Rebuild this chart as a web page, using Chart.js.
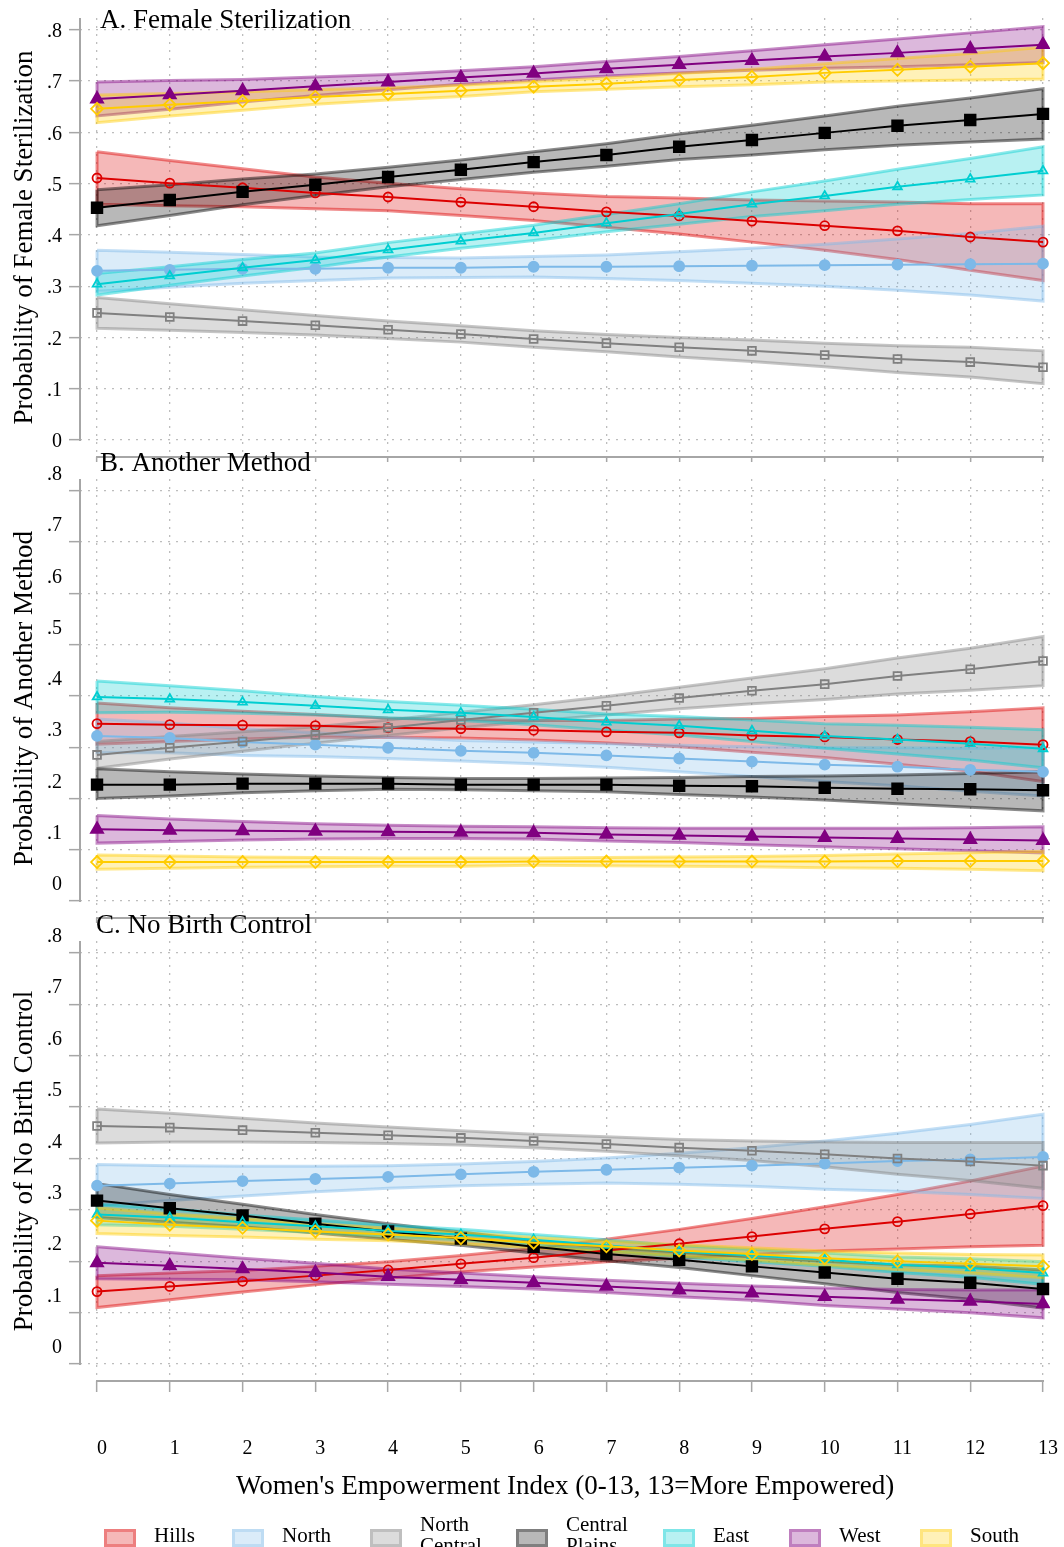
<!DOCTYPE html>
<html>
<head>
<meta charset="utf-8">
<title>Predicted probabilities by region</title>
<script src="https://cdn.jsdelivr.net/npm/chart.js@4.4.1/dist/chart.umd.min.js"></script>
<style>
  body { margin: 0; background: #fff; }
  #page { position: relative; width: 1064px; height: 1547px; overflow: hidden; font-family: "Liberation Serif", "Times New Roman", serif; }
  canvas { position: absolute; left: 0; }
  .lg-box { position: absolute; top: 1529px; width: 32px; height: 18px; box-sizing: border-box; border: 3px solid; background-clip: padding-box; }
  .lg-text { position: absolute; font-size: 21px; line-height: 21px; color: #000; white-space: nowrap; }
</style>
</head>
<body>
<div id="page">
  <canvas id="panelA" width="1064" height="470" style="top:0px"></canvas>
  <canvas id="panelB" width="1064" height="491" style="top:440px"></canvas>
  <canvas id="panelC" width="1064" height="621" style="top:900px"></canvas>
  <div id="legend"></div>
</div>
<script>
const empIndex = [0, 1, 2, 3, 4, 5, 6, 7, 8, 9, 10, 11, 12, 13];
const regions = ['Hills', 'North', 'North Central', 'Central Plains', 'East', 'West', 'South'];

// A. Female sterilization
const sterHills = [0.511,0.501,0.492,0.482,0.474,0.464,0.455,0.445,0.437,0.427,0.418,0.408,0.396,0.386];
const sterHillsLo = [0.460,0.457,0.455,0.451,0.447,0.438,0.428,0.415,0.402,0.386,0.370,0.352,0.331,0.311];
const sterHillsHi = [0.562,0.545,0.529,0.513,0.501,0.490,0.482,0.475,0.472,0.468,0.466,0.464,0.461,0.461];
const sterNorth = [0.330,0.332,0.334,0.334,0.336,0.336,0.338,0.338,0.339,0.340,0.341,0.342,0.343,0.344];
const sterNorthLo = [0.290,0.298,0.306,0.311,0.316,0.317,0.318,0.315,0.311,0.306,0.300,0.292,0.283,0.271];
const sterNorthHi = [0.370,0.366,0.362,0.357,0.356,0.355,0.358,0.361,0.367,0.374,0.382,0.392,0.403,0.417];
const sterNorthCentral = [0.248,0.240,0.232,0.224,0.215,0.207,0.197,0.189,0.181,0.174,0.166,0.158,0.152,0.142];
const sterNorthCentralLo = [0.218,0.214,0.210,0.205,0.198,0.191,0.181,0.172,0.162,0.153,0.143,0.132,0.123,0.110];
const sterNorthCentralHi = [0.278,0.266,0.254,0.243,0.232,0.223,0.213,0.206,0.200,0.195,0.189,0.184,0.181,0.174];
const sterCentralPlains = [0.453,0.468,0.484,0.498,0.513,0.527,0.542,0.556,0.572,0.585,0.599,0.613,0.624,0.636];
const sterCentralPlainsLo = [0.418,0.438,0.459,0.477,0.494,0.508,0.522,0.534,0.547,0.556,0.566,0.575,0.581,0.587];
const sterCentralPlainsHi = [0.488,0.498,0.509,0.519,0.532,0.546,0.562,0.578,0.597,0.614,0.632,0.651,0.667,0.685];
const sterEast = [0.304,0.320,0.336,0.351,0.371,0.388,0.404,0.423,0.441,0.460,0.476,0.494,0.509,0.525];
const sterEastLo = [0.283,0.302,0.320,0.337,0.357,0.374,0.389,0.406,0.421,0.436,0.447,0.460,0.469,0.478];
const sterEastHi = [0.325,0.338,0.352,0.365,0.385,0.402,0.419,0.440,0.461,0.484,0.505,0.528,0.549,0.572];
const sterWest = [0.665,0.673,0.681,0.690,0.698,0.707,0.715,0.724,0.732,0.740,0.748,0.755,0.763,0.771];
const sterWestLo = [0.632,0.645,0.659,0.672,0.683,0.694,0.702,0.710,0.716,0.721,0.725,0.728,0.732,0.736];
const sterWestHi = [0.698,0.701,0.703,0.708,0.713,0.720,0.728,0.738,0.748,0.759,0.771,0.782,0.794,0.806];
const sterSouth = [0.646,0.654,0.661,0.669,0.675,0.681,0.689,0.695,0.702,0.708,0.716,0.722,0.728,0.735];
const sterSouthLo = [0.619,0.632,0.643,0.655,0.663,0.670,0.679,0.684,0.689,0.693,0.698,0.700,0.702,0.704];
const sterSouthHi = [0.673,0.676,0.679,0.683,0.687,0.692,0.699,0.706,0.715,0.723,0.734,0.744,0.754,0.766];

// B. Another method
const otherHills = [0.346,0.344,0.343,0.342,0.338,0.336,0.333,0.330,0.328,0.323,0.320,0.315,0.311,0.305];
const otherHillsLo = [0.306,0.311,0.316,0.320,0.319,0.318,0.314,0.308,0.301,0.290,0.280,0.267,0.253,0.233];
const otherHillsHi = [0.386,0.377,0.370,0.364,0.357,0.354,0.352,0.352,0.355,0.356,0.360,0.363,0.369,0.377];
const otherNorth = [0.322,0.318,0.310,0.305,0.299,0.293,0.289,0.284,0.278,0.272,0.266,0.262,0.256,0.252];
const otherNorthLo = [0.289,0.289,0.284,0.282,0.278,0.273,0.268,0.261,0.252,0.243,0.233,0.225,0.214,0.205];
const otherNorthHi = [0.355,0.347,0.336,0.328,0.320,0.313,0.310,0.307,0.304,0.301,0.299,0.299,0.298,0.299];
const otherNorthCentral = [0.285,0.299,0.311,0.324,0.338,0.353,0.367,0.381,0.396,0.410,0.423,0.439,0.452,0.468];
const otherNorthCentralLo = [0.259,0.277,0.292,0.308,0.323,0.338,0.351,0.363,0.375,0.385,0.393,0.404,0.411,0.420];
const otherNorthCentralHi = [0.311,0.321,0.330,0.340,0.353,0.368,0.383,0.399,0.417,0.435,0.453,0.474,0.493,0.516];
const otherCentralPlains = [0.227,0.227,0.229,0.229,0.229,0.227,0.227,0.227,0.225,0.224,0.221,0.219,0.218,0.216];
const otherCentralPlainsLo = [0.200,0.205,0.211,0.215,0.218,0.217,0.215,0.213,0.208,0.203,0.197,0.190,0.183,0.176];
const otherCentralPlainsHi = [0.258,0.252,0.248,0.244,0.241,0.239,0.239,0.240,0.241,0.243,0.244,0.246,0.249,0.252];
const otherEast = [0.398,0.394,0.388,0.381,0.373,0.367,0.359,0.349,0.342,0.332,0.322,0.315,0.307,0.297];
const otherEastLo = [0.367,0.368,0.366,0.363,0.357,0.352,0.344,0.333,0.324,0.311,0.298,0.287,0.275,0.260];
const otherEastHi = [0.429,0.420,0.410,0.399,0.389,0.382,0.374,0.365,0.360,0.353,0.346,0.343,0.339,0.334];
const otherWest = [0.140,0.138,0.137,0.136,0.135,0.134,0.133,0.130,0.128,0.126,0.124,0.122,0.120,0.118];
const otherWestLo = [0.113,0.116,0.119,0.121,0.122,0.122,0.121,0.117,0.114,0.110,0.106,0.102,0.098,0.094];
const otherWestHi = [0.167,0.160,0.155,0.151,0.148,0.146,0.145,0.143,0.142,0.142,0.142,0.142,0.143,0.145];
const otherSouth = [0.076,0.076,0.076,0.076,0.076,0.076,0.077,0.077,0.077,0.077,0.077,0.078,0.078,0.078];
const otherSouthLo = [0.062,0.064,0.066,0.067,0.068,0.068,0.070,0.069,0.068,0.067,0.065,0.064,0.062,0.059];
const otherSouthHi = [0.090,0.088,0.086,0.085,0.084,0.084,0.084,0.085,0.086,0.087,0.089,0.092,0.094,0.097];

// C. No birth control
const noneHills = [0.141,0.151,0.161,0.172,0.183,0.195,0.207,0.221,0.234,0.248,0.263,0.277,0.292,0.308];
const noneHillsLo = [0.110,0.125,0.140,0.154,0.167,0.179,0.189,0.199,0.206,0.213,0.220,0.224,0.228,0.231];
const noneHillsHi = [0.172,0.177,0.182,0.190,0.199,0.211,0.225,0.243,0.262,0.283,0.306,0.330,0.356,0.385];
const noneNorth = [0.347,0.351,0.356,0.360,0.364,0.369,0.374,0.378,0.382,0.386,0.390,0.395,0.398,0.403];
const noneNorthLo = [0.308,0.318,0.327,0.335,0.342,0.347,0.350,0.352,0.350,0.346,0.340,0.336,0.330,0.322];
const noneNorthHi = [0.388,0.386,0.385,0.385,0.386,0.389,0.394,0.401,0.410,0.421,0.434,0.449,0.466,0.486];
const noneNorthCentral = [0.463,0.460,0.455,0.450,0.445,0.440,0.434,0.428,0.421,0.415,0.408,0.400,0.394,0.386];
const noneNorthCentralLo = [0.430,0.432,0.432,0.431,0.429,0.426,0.421,0.414,0.405,0.396,0.384,0.369,0.357,0.342];
const noneNorthCentralHi = [0.496,0.488,0.478,0.469,0.461,0.454,0.447,0.442,0.437,0.434,0.432,0.431,0.431,0.431];
const noneCentralPlains = [0.318,0.303,0.289,0.273,0.258,0.244,0.228,0.214,0.203,0.190,0.178,0.166,0.158,0.146];
const noneCentralPlainsLo = [0.285,0.276,0.267,0.255,0.243,0.231,0.216,0.201,0.188,0.172,0.156,0.139,0.126,0.109];
const noneCentralPlainsHi = [0.351,0.330,0.311,0.291,0.273,0.257,0.240,0.227,0.218,0.208,0.200,0.193,0.190,0.183];
const noneEast = [0.291,0.285,0.276,0.268,0.259,0.252,0.242,0.231,0.219,0.211,0.203,0.193,0.187,0.177];
const noneEastLo = [0.271,0.268,0.262,0.256,0.248,0.242,0.232,0.220,0.208,0.199,0.190,0.178,0.169,0.155];
const noneEastHi = [0.311,0.302,0.290,0.280,0.270,0.262,0.252,0.242,0.230,0.223,0.216,0.208,0.205,0.199];
const noneWest = [0.197,0.191,0.185,0.178,0.170,0.164,0.158,0.151,0.144,0.138,0.131,0.126,0.122,0.117];
const noneWestLo = [0.166,0.165,0.164,0.160,0.155,0.151,0.146,0.139,0.131,0.124,0.114,0.107,0.100,0.090];
const noneWestHi = [0.228,0.217,0.206,0.196,0.185,0.177,0.170,0.163,0.157,0.152,0.148,0.145,0.144,0.144];
const noneSouth = [0.279,0.271,0.265,0.258,0.252,0.245,0.236,0.229,0.221,0.214,0.206,0.200,0.195,0.190];
const noneSouthLo = [0.254,0.250,0.247,0.243,0.240,0.234,0.226,0.219,0.210,0.202,0.192,0.184,0.177,0.168];
const noneSouthHi = [0.304,0.292,0.283,0.273,0.264,0.256,0.246,0.239,0.232,0.226,0.220,0.216,0.213,0.212];

const yTicks = [0, 0.1, 0.2, 0.3, 0.4, 0.5, 0.6, 0.7, 0.8];
const xTitle = "Women's Empowerment Index (0-13, 13=More Empowered)";

// styles (kept apart from the values)
const rgb = ['220,0,0', '125,185,232', '128,128,128', '0,0,0', '0,206,209', '128,0,128', '255,204,0'];
const markers = [
  { style: 'circle', r: 4.5, filled: false },
  { style: 'circle', r: 5, filled: true },
  { style: 'rect', r: 5.5, filled: false },
  { style: 'rect', r: 7.5, filled: true },
  { style: 'triangle', r: 5, filled: false },
  { style: 'triangle', r: 7, filled: true },
  { style: 'rectRot', r: 6, filled: false }
];
const FONT = 'Liberation Serif';

// draws axis lines the Stata way and the panel heading
const panelFrame = {
  id: 'panelFrame',
  afterDraw(chart, args, opts) {
    const { ctx, chartArea, scales } = chart;
    const x = scales.x, y = scales.y;
    ctx.save();
    ctx.strokeStyle = '#a6a6a6';
    ctx.lineWidth = 2;
    ctx.beginPath();
    ctx.moveTo(chartArea.left, chartArea.top);
    ctx.lineTo(chartArea.left, y.getPixelForValue(0) + 1);
    ctx.moveTo(x.getPixelForValue(0) - 1, chartArea.bottom);
    ctx.lineTo(x.getPixelForValue(13) + 1, chartArea.bottom);
    ctx.stroke();
    ctx.fillStyle = '#000';
    ctx.font = '27px "' + FONT + '"';
    ctx.textBaseline = 'alphabetic';
    ctx.fillText(opts.title, opts.titleX, opts.titleY);
    ctx.restore();
  }
};

function bandPoints(lo, hi) {
  const pts = hi.map((v, i) => ({ x: empIndex[i], y: v }));
  for (let i = lo.length - 1; i >= 0; i--) pts.push({ x: empIndex[i], y: lo[i] });
  pts.push(pts[0]);
  return pts;
}

function makePanel(id, series, p) {
  const datasets = [];
  series.forEach((s, k) => {
    datasets.push({
      label: regions[k] + ' CI',
      data: bandPoints(s[1], s[2]),
      fill: 'shape',
      backgroundColor: 'rgba(' + rgb[k] + ',0.28)',
      borderColor: 'rgba(' + rgb[k] + ',0.45)',
      borderWidth: 3,
      pointRadius: 0,
      tension: 0,
      order: 30 - k
    });
  });
  series.forEach((s, k) => {
    const m = markers[k];
    datasets.push({
      label: regions[k],
      data: s[0].map((v, i) => ({ x: empIndex[i], y: v })),
      fill: false,
      borderColor: 'rgb(' + rgb[k] + ')',
      borderWidth: 2,
      pointStyle: m.style,
      pointRadius: m.r,
      pointBorderWidth: 1.8,
      pointBorderColor: 'rgb(' + rgb[k] + ')',
      pointBackgroundColor: m.filled ? 'rgb(' + rgb[k] + ')' : 'rgba(0,0,0,0)',
      tension: 0,
      order: 10 - k
    });
  });

  return new Chart(document.getElementById(id), {
    type: 'line',
    data: { datasets },
    options: {
      responsive: false,
      animation: false,
      layout: { padding: { top: p.padTop, right: 14, left: 0, bottom: 0 } },
      plugins: {
        legend: { display: false },
        tooltip: { enabled: false },
        panelFrame: { title: p.title, titleX: p.titleX, titleY: p.titleY }
      },
      scales: {
        x: {
          type: 'linear',
          min: -0.234,
          max: 13.096,
          afterFit: (s) => { s.height = p.xHeight; s.paddingLeft = 0; s.paddingRight = 0; },
          ticks: {
            display: p.showX,
            stepSize: 1,
            includeBounds: false,
            autoSkip: false,
            maxRotation: 0,
            padding: 45,
            labelOffset: 5,
            color: '#000',
            font: { family: FONT, size: 20 }
          },
          grid: { color: '#bdbdbd', lineWidth: 1.3, tickLength: p.xTick, tickColor: '#a6a6a6', tickWidth: 1.5 },
          border: { display: false, dash: [2, 6] },
          title: {
            display: p.showX,
            text: xTitle,
            color: '#000',
            font: { family: FONT, size: 27 },
            padding: { top: 0, bottom: 18 }
          }
        },
        y: {
          min: -0.033,
          max: 0.823,
          afterFit: (s) => { s.width = 80; s.paddingTop = 0; s.paddingBottom = 0; },
          afterBuildTicks: (s) => { s.ticks = yTicks.map(v => ({ value: v })); },
          ticks: {
            padding: 7,
            labelOffset: p.labelOffset,
            color: '#000',
            font: { family: FONT, size: 20 },
            callback: (v) => (v === 0 ? '0' : v.toFixed(1).replace(/^0/, ''))
          },
          grid: { color: '#bdbdbd', lineWidth: 1.3, tickLength: 11, tickColor: '#a6a6a6', tickWidth: 1.5 },
          border: { display: false, dash: [2, 6] },
          title: {
            display: true,
            text: p.yTitle,
            color: '#000',
            font: { family: FONT, size: 27 },
            padding: { top: 9, bottom: 0 }
          }
        }
      }
    },
    plugins: [panelFrame]
  });
}

makePanel('panelA', [
  [sterHills, sterHillsLo, sterHillsHi],
  [sterNorth, sterNorthLo, sterNorthHi],
  [sterNorthCentral, sterNorthCentralLo, sterNorthCentralHi],
  [sterCentralPlains, sterCentralPlainsLo, sterCentralPlainsHi],
  [sterEast, sterEastLo, sterEastHi],
  [sterWest, sterWestLo, sterWestHi],
  [sterSouth, sterSouthLo, sterSouthHi]
], { padTop: 18, xHeight: 13, xTick: 5, showX: false, labelOffset: 2,
     title: 'A. Female Sterilization', titleX: 100, titleY: 28, yTitle: 'Probability of Female Sterilization' });

makePanel('panelB', [
  [otherHills, otherHillsLo, otherHillsHi],
  [otherNorth, otherNorthLo, otherNorthHi],
  [otherNorthCentral, otherNorthCentralLo, otherNorthCentralHi],
  [otherCentralPlains, otherCentralPlainsLo, otherCentralPlainsHi],
  [otherEast, otherEastLo, otherEastHi],
  [otherWest, otherWestLo, otherWestHi],
  [otherSouth, otherSouthLo, otherSouthHi]
], { padTop: 39, xHeight: 13, xTick: 5, showX: false, labelOffset: -16,
     title: 'B. Another Method', titleX: 100, titleY: 31, yTitle: 'Probability of Another Method' });

makePanel('panelC', [
  [noneHills, noneHillsLo, noneHillsHi],
  [noneNorth, noneNorthLo, noneNorthHi],
  [noneNorthCentral, noneNorthCentralLo, noneNorthCentralHi],
  [noneCentralPlains, noneCentralPlainsLo, noneCentralPlainsHi],
  [noneEast, noneEastLo, noneEastHi],
  [noneWest, noneWestLo, noneWestHi],
  [noneSouth, noneSouthLo, noneSouthHi]
], { padTop: 41, xHeight: 140, xTick: 11, showX: true, labelOffset: -16,
     title: 'C. No Birth Control', titleX: 96, titleY: 33, yTitle: 'Probability of No Birth Control' });

// legend (band swatches, as in the original)
const legendBoxX = [104, 232, 370, 516, 663, 789, 920];
const legend = document.getElementById('legend');
regions.forEach((name, k) => {
  const box = document.createElement('div');
  box.className = 'lg-box';
  box.style.left = legendBoxX[k] + 'px';
  box.style.borderColor = 'rgba(' + rgb[k] + ',0.5)';
  box.style.backgroundColor = 'rgba(' + rgb[k] + ',0.28)';
  legend.appendChild(box);
  const words = name.split(' ');
  const txt = document.createElement('div');
  txt.className = 'lg-text';
  txt.style.left = (legendBoxX[k] + 50) + 'px';
  txt.style.top = (words.length > 1 ? 1514 : 1525) + 'px';
  txt.innerHTML = words.join('<br>');
  legend.appendChild(txt);
});
</script>
</body>
</html>
